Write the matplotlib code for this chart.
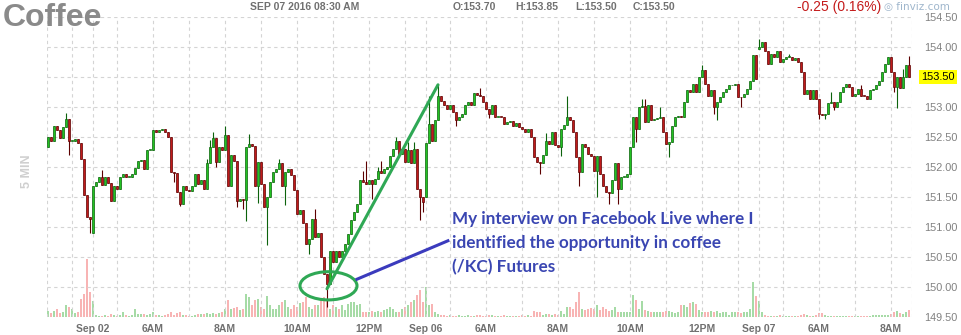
import numpy as np
import pandas as pd
import matplotlib
matplotlib.use("Agg")
import matplotlib.pyplot as plt
from matplotlib.patches import Ellipse
from matplotlib.transforms import blended_transform_factory

# 5-minute Coffee (KC) futures, one list per trading session
sep01_close = [152.50, 152.43, 152.69, 152.62, 152.48, 152.67, 152.80, 152.44, 152.44, 152.46,
               152.40, 152.14, 151.53, 151.17, 151.13]
sep02_close = [151.69, 151.75, 151.83, 151.70, 151.83, 151.73, 151.44, 151.69, 151.64, 151.83,
               151.88, 151.83, 151.83, 151.88, 151.98, 152.10, 152.11, 151.97, 152.28, 152.28,
               152.61, 152.58, 152.61, 152.64, 152.58, 152.50, 151.92, 151.90, 151.58, 151.39,
               151.69, 151.62, 151.60, 151.69, 151.89, 151.72, 151.78, 151.64, 152.06, 152.34,
               152.49, 152.08, 152.33, 152.28, 152.54, 151.68, 152.20, 152.10, 151.43, 151.47,
               151.45, 152.34, 152.39, 152.35, 151.68, 152.08, 151.72, 151.33, 151.50, 151.75,
               151.92, 151.97, 152.06, 151.69, 151.92, 151.97, 151.86, 151.61, 151.22, 151.28,
               151.06, 150.72, 150.80, 151.14, 150.83, 150.90, 150.50, 150.22, 150.05, 150.60,
               150.42, 150.60, 150.50, 150.60, 150.72, 150.89, 151.11, 151.25, 151.39, 151.78,
               151.75, 151.72, 151.78, 151.72, 151.80, 151.94, 151.90, 151.97, 152.00, 152.19,
               152.30, 152.44, 152.22, 152.30, 152.08, 152.28, 152.06, 152.30, 151.64, 151.50,
               151.42]
sep06_close = [152.40, 152.72, 152.44, 152.78, 153.19, 153.10, 153.03, 152.97, 153.04, 152.92,
               152.78, 152.83, 152.89, 153.03, 153.08, 153.03, 153.23, 153.20, 153.18, 153.08,
               152.97, 152.89, 153.04, 152.83, 152.84, 152.83, 152.71, 152.75, 152.76, 152.68,
               152.73, 152.67, 152.64, 152.58, 152.64, 152.50, 152.17, 152.08, 152.06, 152.20,
               152.44, 152.39, 152.58, 152.36, 152.33, 152.64, 152.70, 152.83, 152.78, 152.58,
               152.17, 151.92, 152.39, 152.33, 152.22, 152.19, 151.94, 152.19, 151.89, 151.69,
               151.58, 151.56, 151.78, 152.06, 151.64, 151.83, 151.84, 151.89, 152.33, 152.83,
               152.64, 153.00, 153.02, 152.75, 153.04, 152.78, 152.80, 152.81, 152.83, 152.58,
               152.39, 152.42, 152.69, 152.83, 152.85, 152.84, 153.08, 153.28, 153.25, 153.39,
               153.25, 153.50, 153.61, 153.39, 153.18, 153.28, 153.00, 153.08, 153.17, 153.25,
               153.30, 153.36, 153.37, 153.39, 153.17, 153.16, 153.22, 153.30, 153.44, 153.86,
               153.47]
sep07_close = [154.00, 154.08, 153.94, 153.72, 153.89, 153.83, 153.94, 153.75, 153.80, 153.83,
               153.84, 153.78, 153.81, 153.75, 153.58, 153.22, 153.29, 153.14, 153.28, 153.14,
               152.89, 152.86, 152.89, 153.06, 153.08, 153.00, 153.08, 153.25, 153.33, 153.39,
               153.34, 153.19, 153.22, 153.30, 153.19, 153.18, 153.14, 153.28, 153.30, 153.36,
               153.44, 153.58, 153.72, 153.83, 153.58, 153.33, 153.50, 153.31, 153.50, 153.70,
               153.50]

# each bar opens at the previous close, except the first bar of a session
session_open = {0: 152.33, 15: 150.90, 126: 151.50, 237: 153.97}
# wicks that reach past the candle body (bar index -> price)
wick_high = {6: 152.90, 18: 151.95, 53: 152.14, 54: 152.45, 55: 152.58, 59: 152.69, 67: 152.55,
             77: 152.14, 89: 151.30, 105: 151.94, 106: 152.10, 110: 152.00, 111: 152.10,
             116: 152.50, 120: 152.42, 122: 152.42, 127: 153.19, 130: 153.39, 144: 153.31,
             166: 152.56, 173: 153.19, 198: 153.14, 199: 153.14, 204: 153.00, 218: 153.70,
             237: 154.14, 247: 153.89, 261: 153.25, 271: 153.36, 285: 153.64, 287: 153.85}
wick_low = {7: 152.20, 14: 150.90, 42: 151.75, 44: 151.35, 56: 152.00, 63: 151.33, 65: 151.30,
            66: 151.10, 70: 151.40, 73: 150.70, 79: 151.36, 87: 150.55, 93: 149.67, 108: 151.47,
            124: 151.11, 125: 151.25, 136: 152.69, 147: 152.81, 164: 151.89, 171: 152.19,
            177: 151.69, 183: 151.50, 187: 151.39, 190: 151.39, 196: 152.42, 207: 152.17,
            222: 152.89, 223: 152.79, 231: 153.00, 257: 152.80, 259: 152.80, 262: 152.95,
            282: 153.25, 283: 152.99}

sep01_vol = [6, 4, 6, 8, 4, 5, 12, 10, 8, 4, 5, 18, 23, 58, 25]
sep02_vol = [16, 2, 1, 1, 2, 1, 3, 2, 1, 2, 5, 2, 1, 2, 8, 3, 3, 3, 2, 3,
             5, 2, 2, 1, 2, 3, 5, 2, 4, 5, 2, 2, 1, 1, 2, 3, 3, 3, 4, 3,
             4, 3, 4, 5, 8, 17, 8, 9, 10, 7, 8, 23, 20, 12, 17, 18, 10, 8, 21, 12,
             8, 8, 12, 15, 17, 10, 8, 12, 10, 14, 15, 20, 10, 8, 12, 12, 18, 20, 17, 8,
             12, 10, 8, 12, 7, 13, 15, 15, 12, 13, 5, 5, 5, 6, 5, 6, 5, 7, 8, 10,
             8, 5, 5, 8, 10, 12, 15, 17, 22, 27, 15]
sep06_vol = [30, 12, 13, 5, 3, 2, 2, 1, 2, 1, 1, 2, 1, 1, 2, 1, 1, 2, 2, 1,
             1, 2, 2, 1, 1, 1, 2, 1, 1, 1, 1, 1, 2, 1, 2, 1, 6, 5, 5, 2,
             3, 3, 2, 3, 2, 6, 3, 10, 10, 8, 15, 25, 8, 7, 8, 9, 8, 12, 7, 10,
             8, 6, 7, 10, 5, 5, 5, 5, 5, 22, 17, 8, 16, 7, 6, 5, 5, 5, 5, 5,
             6, 6, 5, 4, 5, 12, 12, 10, 14, 15, 13, 7, 5, 5, 5, 6, 5, 6, 4, 5,
             5, 2, 5, 5, 5, 4, 5, 5, 8, 35, 21]
sep07_vol = [16, 5, 2, 1, 1, 1, 1, 2, 1, 1, 1, 1, 1, 1, 2, 3, 2, 1, 1, 2,
             4, 4, 2, 1, 1, 1, 1, 1, 1, 1, 1, 1, 1, 1, 1, 1, 1, 1, 2, 2,
             2, 2, 2, 2, 3, 5, 6, 4, 3, 5, 7]

sessions = [("2016-09-01 12:20", sep01_close, sep01_vol),
            ("2016-09-02 04:20", sep02_close, sep02_vol),
            ("2016-09-06 04:20", sep06_close, sep06_vol),
            ("2016-09-07 04:20", sep07_close, sep07_vol)]

price_ticks = [149.5, 150.0, 150.5, 151.0, 151.5, 152.0, 152.5, 153.0, 153.5, 154.0, 154.5]
last_price = 153.50
header = "SEP 07 2016 08:30 AM"
ohlc_text = ["O:153.70", "H:153.85", "L:153.50", "C:153.50"]
change_text = "-0.25 (0.16%)"
note = "My interview on Facebook Live where I\nidentified the opportunity in coffee\n(/KC) Futures"

# annotation anchors in (bar, price)
trend_start, trend_end = (93.0, 149.97), (130.0, 153.37)
circle_center, circle_size = (93.5, 150.02), (19.0, 0.47)
arrow_start, arrow_end = (103.0, 150.13), (133.3, 150.77)
note_at = (134.7, 151.27)


def main():
    times, close, volume = [], [], []
    for start, c, v in sessions:
        assert len(c) == len(v)
        times.extend(pd.date_range(start, periods=len(c), freq="5min"))
        close.extend(c)
        volume.extend(v)
    close = np.array(close)
    volume = np.array(volume)
    n = len(close)
    idx = np.arange(n)

    opn = np.r_[close[0], close[:-1]]
    for i, p in session_open.items():
        opn[i] = p
    high = np.maximum(opn, close)
    low = np.minimum(opn, close)
    for i, p in wick_high.items():
        high[i] = max(high[i], p)
    for i, p in wick_low.items():
        low[i] = min(low[i], p)
    up = close >= opn

    plt.rcParams["font.family"] = ["Liberation Sans", "DejaVu Sans"]
    fig = plt.figure(figsize=(9.61, 3.35), dpi=100)
    ax = fig.add_axes([47 / 961, 18 / 335, 865 / 961, 300 / 335])
    vax = ax.twinx()
    vax.set_zorder(0)
    ax.set_zorder(1)
    ax.patch.set_visible(False)

    grid_kw = dict(color="#d4d4d4", lw=0.8, ls=(0, (3, 3)))
    x0, x1 = -0.33, 288.0

    # volume
    vcol = np.where(up, "#a6dba6", "#f8b4b4")
    vax.bar(idx, volume, width=0.95, color=vcol, lw=0)
    vax.set_ylim(0, 300)
    vax.set_yticks([])
    for s in vax.spines.values():
        s.set_visible(False)

    # gridlines: every hour and every session start
    for i, t in enumerate(times):
        new_day = i > 0 and t.date() != times[i - 1].date()
        if new_day or t.minute == 0:
            ax.axvline(i, zorder=0, **grid_kw)
    ax.axvline(x0, zorder=0, **grid_kw)
    ax.axvline(x1, zorder=0, **grid_kw)
    for p in price_ticks:
        ax.axhline(p, zorder=0, **grid_kw)

    # candles
    wick_col = np.where(up, "#0c620c", "#5c0000")
    ax.vlines(idx, low, high, colors=wick_col, lw=0.8, zorder=2)
    body = np.maximum(np.abs(close - opn), 0.015)
    ax.bar(idx, body, bottom=np.minimum(opn, close), width=0.86,
           color=np.where(up, "#22c222", "#c01a1a"), edgecolor=wick_col, lw=0.5, zorder=3)

    ax.set_xlim(x0, x1)
    ax.set_ylim(149.5, 154.5)
    for s in ax.spines.values():
        s.set_visible(False)

    # x labels
    ticks, labels = [], []
    for i, t in enumerate(times):
        if i > 0 and t.date() != times[i - 1].date():
            ticks.append(i)
            labels.append(t.strftime("%b %d"))
        elif t.minute == 0 and t.hour % 2 == 0:
            ticks.append(i)
            labels.append(t.strftime("%I%p").lstrip("0"))
    ax.set_xticks(ticks)
    ax.set_xticklabels(labels, fontsize=7.5, fontweight="bold", color="#707070")
    ax.tick_params(axis="x", length=0, pad=5)

    ax.yaxis.tick_right()
    ax.set_yticks(price_ticks)
    ax.set_yticklabels(["" if p == last_price else f"{p:.2f}" for p in price_ticks],
                       fontsize=7.8, color="#808080")
    ax.tick_params(axis="y", length=0, pad=9)
    tr = blended_transform_factory(ax.transAxes, ax.transData)
    ax.text(1.0105, last_price, f"{last_price:.2f}", transform=tr, fontsize=7.8, va="center",
            ha="left", color="black", zorder=5,
            bbox=dict(boxstyle="square,pad=0.2", fc="#ffff00", ec="none"))

    # annotation
    ax.plot([trend_start[0], trend_end[0]], [trend_start[1], trend_end[1]],
            color="#2fa855", lw=2.2, zorder=4, solid_capstyle="round")
    ax.add_patch(Ellipse(circle_center, circle_size[0], circle_size[1], fill=False,
                         ec="#2fa855", lw=2.2, zorder=4))
    ax.plot([arrow_start[0], arrow_end[0]], [arrow_start[1], arrow_end[1]],
            color="#3b3bbd", lw=2.2, zorder=4)
    ax.text(note_at[0], note_at[1], note, fontsize=12.3, fontweight="bold", color="#3a46b2",
            family=["Lato", "DejaVu Sans"], va="top", ha="left", linespacing=1.62, zorder=5)

    # header
    fig.text(3 / 961, 1 - 3 / 335, "Coffee", fontsize=23, fontweight="bold", color="#8a8a8a",
             va="top", ha="left")
    fig.text(250 / 961, 1 - 7 / 335, header, fontsize=7.5, fontweight="bold", color="#707070",
             va="center", ha="left")
    for x, s in zip([453, 515, 575, 633], ohlc_text):
        fig.text(x / 961, 1 - 7 / 335, s, fontsize=7.5, fontweight="bold", color="#707070",
                 va="center", ha="left")
    fig.text(797 / 961, 1 - 7 / 335, change_text, fontsize=10, color="#c41a1a",
             va="center", ha="left")
    fig.text(950 / 961, 1 - 7 / 335, "\u25ce finviz.com", fontsize=7.5, color="#9fb6cc",
             va="center", ha="right", family=["DejaVu Sans"])
    fig.text(27 / 961, 1 - 171 / 335, "5 MIN", fontsize=9, fontweight="bold", color="#cfcfcf",
             rotation=90, va="center", ha="center")

    fig.savefig("out.png", dpi=100)


if __name__ == "__main__":
    main()
